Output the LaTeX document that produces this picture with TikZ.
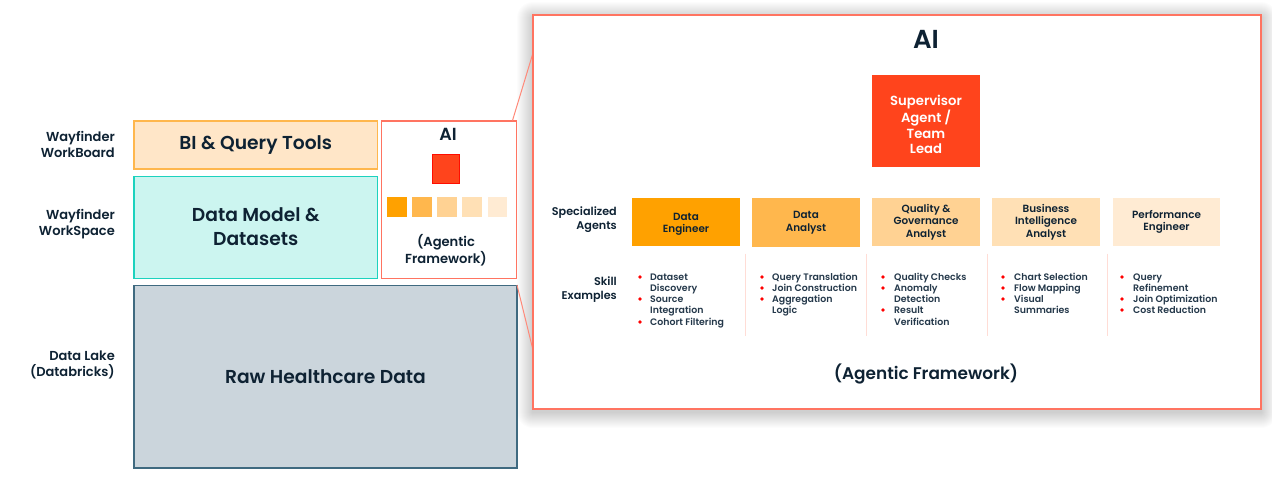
\documentclass[tikz,border=0pt]{standalone}
\usepackage{fontspec}
\setmainfont{Poppins SemiBold}[BoldFont={Poppins SemiBold}]
\definecolor{ink}{HTML}{0E2233}
\definecolor{inkb}{HTML}{24384A}
\definecolor{coral}{HTML}{FF7461}
\definecolor{redor}{HTML}{FF441C}
\definecolor{oa}{HTML}{FFA100}
\definecolor{ob}{HTML}{FFB74D}
\definecolor{oc}{HTML}{FFD293}
\definecolor{od}{HTML}{FFE0B5}
\definecolor{oe}{HTML}{FFEBD3}
\definecolor{biline}{HTML}{FFB74D}
\definecolor{bifill}{HTML}{FFE6C8}
\definecolor{teall}{HTML}{1CD2BE}
\definecolor{tealf}{HTML}{CCF5F0}
\definecolor{grayl}{HTML}{3F6A80}
\definecolor{grayf}{HTML}{CBD5DC}
\definecolor{divc}{HTML}{FFDDD6}
\newcommand{\fs}[2]{\fontsize{#1}{#2}\selectfont}
\tikzset{
  x=1pt,y=-1pt,
  box/.style={draw,line width=1.2pt,anchor=north west,inner sep=0pt,outer sep=0pt,align=center,text=ink},
  agent/.style={anchor=north west,inner sep=0pt,outer sep=0pt,minimum width=108pt,minimum height=48pt,align=center,text=ink,font=\fs{10.4}{12.5}},
  agentt/.style={anchor=center,inner sep=0pt,align=center,text=ink,font=\fs{10.4}{12.5}},
  sq/.style={anchor=north west,inner sep=0pt,outer sep=0pt,minimum width=19.5pt,minimum height=19.5pt},
  side/.style={anchor=east,align=right,text=ink,inner sep=0pt,font=\fs{13}{16}},
  sideb/.style={anchor=east,align=right,text=ink,inner sep=0pt,font=\fs{11.2}{14.5}},
  item/.style={anchor=base west,inner sep=0pt,text=inkb,font=\fs{9.4}{11}},
  dot/.style={circle,fill=red,inner sep=0pt,minimum size=3.6pt},
  dv/.style={draw=divc,line width=1pt},
  zoomline/.style={draw=coral!85!white,line width=1pt},
}
\begin{document}
\begin{tikzpicture}
\useasboundingbox (0,0) rectangle (1272,480);
\fill[white] (0,0) rectangle (1272,480);
% left stack
\node[box,draw=biline,fill=bifill,minimum width=243.5pt,minimum height=48pt,font=\fs{18.7}{22}] (bi) at (134,121) {BI \& Query Tools};
\node[box,draw=teall,fill=tealf,minimum width=243.5pt,minimum height=102pt] (dm) at (134,176.5) {};
\node[anchor=center,inner sep=0pt,align=center,text=ink,font=\fs{18.7}{24}] (dmt) at ([yshift=1pt]dm.center) {Data Model \&\\Datasets};
\node[box,draw=coral,fill=white,minimum width=135pt,minimum height=157.5pt] (aismall) at (381.5,121) {};
\node[box,draw=grayl,fill=grayf,minimum width=383pt,minimum height=182.5pt,font=\fs{18.7}{22}] (raw) at (134,285.5) {Raw Healthcare Data};
\node[anchor=center,text=ink,inner sep=0pt,font=\fs{17.5}{20}] (ait) at (448,134) {AI};
\node[sq,fill=redor,draw=red!90!orange,line width=.6pt,minimum width=27pt,minimum height=29pt] (sup) at (432.5,154.5) {};
\node[sq,fill=oa] (s1) at (387,197) {};
\node[sq,fill=ob] (s2) at (412,197) {};
\node[sq,fill=oc] (s3) at (437,197) {};
\node[sq,fill=od] (s4) at (462,197) {};
\node[sq,fill=oe] (s5) at (487.5,197) {};
\node[anchor=center,align=center,text=ink,inner sep=0pt,font=\fs{13.1}{16.5}] (af) at (446,250) {(Agentic\\Framework)};
% side labels
\node[side] (l1) at (115,144) {Wayfinder\\WorkBoard};
\node[side] (l2) at (115,224) {Wayfinder\\WorkSpace};
\node[side] (l3) at (115,365) {Data Lake\\(Databricks)};
% panel shadow
\foreach \i in {1,...,16}{
  \fill[black,opacity=.011,rounded corners=\i pt] (533-\i,15-\i+3) rectangle (1261+\i,409+\i+3);
}
% zoom lines
\coordinate (zt) at (533,53);
\coordinate (zb) at (533,350);
\coordinate (at) at (512.5,120.5);
\coordinate (ab) at (517,285);
\draw[zoomline] (at) -- (zt);
\draw[zoomline] (ab) -- (zb);
% panel
\node[box,draw=coral,line width=1.6pt,fill=white,minimum width=728pt,minimum height=394pt] (panel) at (533,15) {};
\node[anchor=center,text=ink,inner sep=0pt,font=\fs{26}{30}] (big) at (926,39.5) {AI};
\node[agent,fill=redor,minimum height=92pt] (supb) at (872,75) {};
\node[agentt,text=white,font=\fs{13.2}{15.4}] (supt) at ([yshift=-3.5pt]supb.center) {Supervisor\\Agent /\\Team\\Lead};
\node[agent,fill=oa] (a1) at (632,198) {};
\node[agentt] (a1t) at ([yshift=-2.5pt]a1.center) {Data\\Engineer};
\node[agent,fill=ob,minimum height=49pt] (a2) at (752,198) {Data\\Analyst};
\node[agent,fill=oc] (a3) at (872,198) {Quality \&\\Governance\\Analyst};
\node[agent,fill=od] (a4) at (992,198) {Business\\Intelligence\\Analyst};
\node[agent,fill=oe,minimum width=107pt] (a5) at (1113,198) {Performance\\Engineer};
\node[sideb] (sa) at (617,219.5) {Specialized\\Agents};
\node[sideb] (se) at (617,289.5) {Skill\\Examples};
% dividers
\foreach \n/\xx in {d1/745.5,d2/866,d3/987.5,d4/1107.5}{
  \coordinate (\n t) at (\xx,253.5);
  \coordinate (\n b) at (\xx,336);
  \draw[dv] (\n t) -- (\n b);
}
% lists
\foreach \bx/\tx/\yy/\tt in {
 640/650/280/Dataset, 640/650/302/Source, 640/650/325/Cohort Filtering,
 762/772/280/Query Translation, 762/772/291/Join Construction, 762/772/302/Aggregation,
 883/894/280/Quality Checks, 883/894/291/Anomaly, 883/894/313/Result,
 1003/1014/280/Chart Selection, 1003/1014/291/Flow Mapping, 1003/1014/302/Visual,
 1122/1133/280/Query, 1122/1133/302/Join Optimization, 1122/1133/313/Cost Reduction}{
  \node[dot] at (\bx,\yy-3) {};
  \node[item] at (\tx,\yy) {\tt};
}
\foreach \tx/\yy/\tt in {650/291/Discovery, 650/313/Integration, 772/313/Logic, 894/302/Detection, 894/325/Verification, 1014/313/Summaries, 1133/291/Refinement}{
  \node[item] at (\tx,\yy) {\tt};
}
\node[anchor=center,text=ink,inner sep=0pt,font=\fs{16.9}{20}] (afb) at (926,374) {(Agentic Framework)};
\end{tikzpicture}
\end{document}
